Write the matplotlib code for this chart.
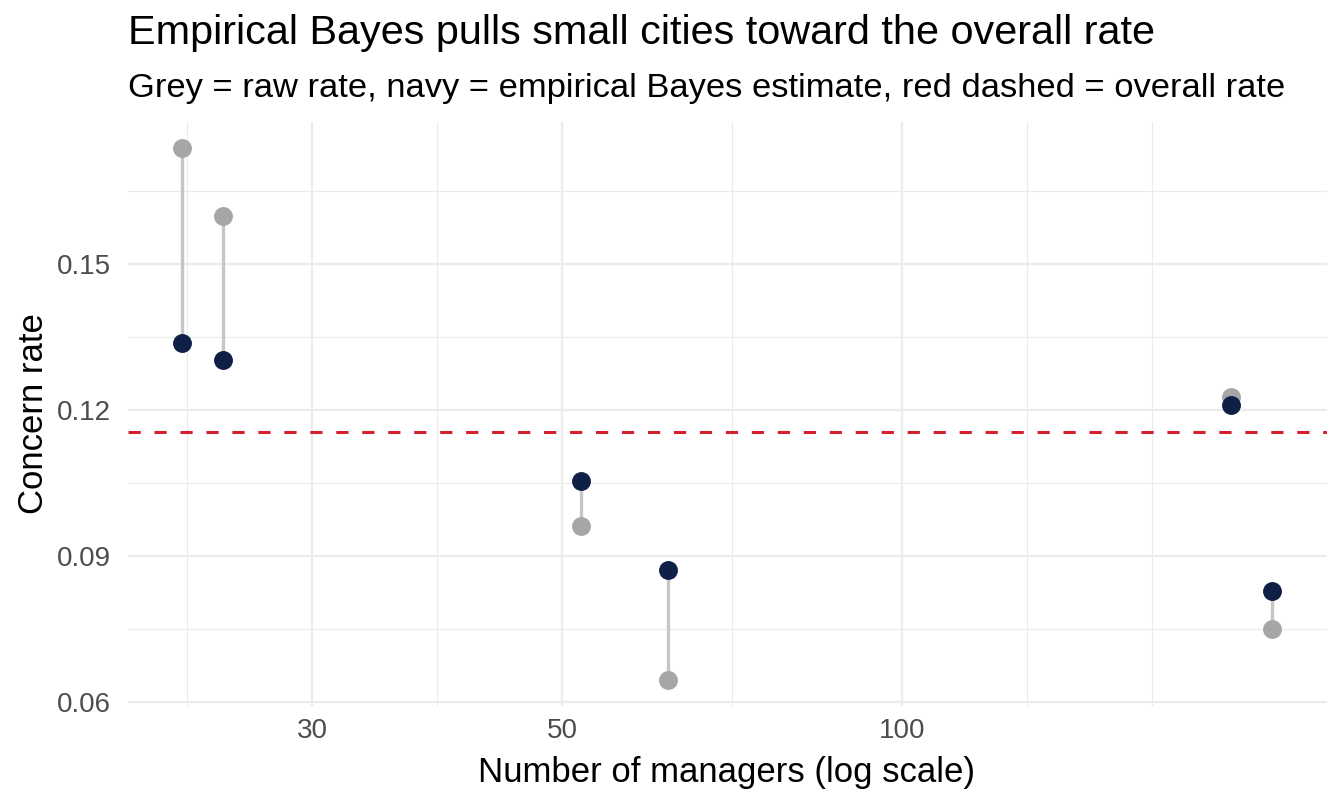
import numpy as np
import matplotlib.pyplot as plt

plt.rcParams['font.family'] = ['Liberation Sans', 'DejaVu Sans']

# managers per city, raw concern rate and empirical Bayes estimate
n_managers = [23, 25, 52, 62, 196, 213]
raw_rate = [0.1739, 0.1599, 0.0962, 0.0645, 0.1226, 0.0750]
eb_rate = [0.1339, 0.1303, 0.1055, 0.0871, 0.1210, 0.0827]
overall_rate = 0.1154

x_breaks = [30, 50, 100]
y_breaks = [0.06, 0.09, 0.12, 0.15]

grid_col = "#EBEBEB"
navy = "#101F46"
raw_col = "#A6A6A6"
seg_col = "#C6C6C6"
red = "#D3222E"

W, H = 1344, 806
fig = plt.figure(figsize=(W / 100, H / 100), dpi=100)
left, right, top, bottom = 127.5, 1326.5, 121.6, 706.4
ax = fig.add_axes([left / W, 1 - bottom / H, (right - left) / W, (bottom - top) / H])

# ggplot-style limits: 5% expansion (x in log space)
lx = np.log10(n_managers)
pad = 0.05 * (lx.max() - lx.min())
xlim = (10 ** (lx.min() - pad), 10 ** (lx.max() + pad))
ally = raw_rate + eb_rate
ypad = 0.05 * (max(ally) - min(ally))
ylim = (min(ally) - ypad, max(ally) + ypad)

# minor breaks like ggplot: midpoints of (extended) major breaks
lb = np.log10(x_breaks)
bd = lb[1] - lb[0]
ext = np.concatenate([[lb[0] - bd], lb, [lb[-1] + bd]])
x_minor = list(10 ** ((ext[:-1] + ext[1:]) / 2)) + [10 ** ext[-1]]
y_minor = [b + 0.015 for b in y_breaks]

for v in x_minor:
    ax.axvline(v, color=grid_col, lw=0.8, zorder=0)
for v in y_minor:
    ax.axhline(v, color=grid_col, lw=0.8, zorder=0)
for v in x_breaks:
    ax.axvline(v, color=grid_col, lw=1.6, zorder=0)
for v in y_breaks:
    ax.axhline(v, color=grid_col, lw=1.6, zorder=0)

ax.axhline(overall_rate, color=red, lw=2.2, dashes=(4, 4.5), zorder=1)
ax.vlines(n_managers, raw_rate, eb_rate, color=seg_col, lw=2.4, zorder=2)
ax.scatter(n_managers, raw_rate, s=185, color=raw_col, lw=0, zorder=3)
ax.scatter(n_managers, eb_rate, s=185, color=navy, lw=0, zorder=4)

ax.set_xscale('log')
ax.set_xlim(xlim)
ax.set_ylim(ylim)
ax.set_xticks(x_breaks)
ax.set_xticklabels([str(b) for b in x_breaks])
ax.xaxis.set_minor_locator(plt.NullLocator())
ax.set_yticks(y_breaks)
ax.set_yticklabels([f"{b:.2f}" for b in y_breaks])
ax.tick_params(length=0, labelsize=20, labelcolor="#4D4D4D")
ax.tick_params(axis='x', pad=8)
ax.tick_params(axis='y', pad=12)
for s in ax.spines.values():
    s.set_visible(False)

# axis titles placed by baseline
fig.text((left + right) / 2 / W, 1 - 782 / H, "Number of managers (log scale)",
         fontsize=25, ha='center', va='baseline')
fig.text(42.7 / W, 1 - (top + bottom) / 2 / H, "Concern rate", fontsize=25,
         rotation=90, rotation_mode='anchor', ha='center', va='baseline')

fig.text(128 / W, 1 - 44 / H, "Empirical Bayes pulls small cities toward the overall rate",
         fontsize=29.8, va='baseline', ha='left')
fig.text(128 / W, 1 - 97 / H,
         "Grey = raw rate, navy = empirical Bayes estimate, red dashed = overall rate",
         fontsize=24.8, va='baseline', ha='left')

fig.savefig("out.png", dpi=100, facecolor="white")
